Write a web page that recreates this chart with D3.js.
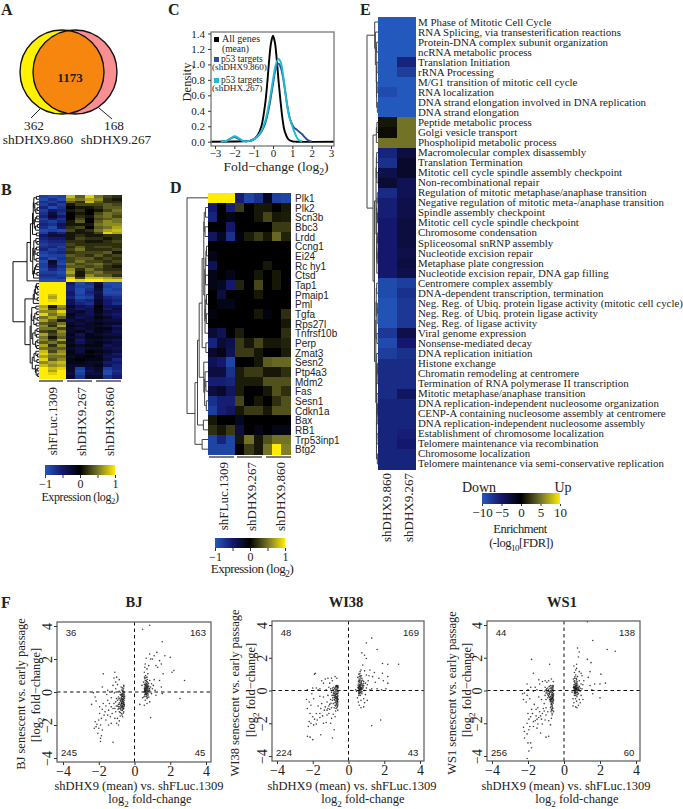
<!DOCTYPE html>
<html>
<head>
<meta charset="utf-8">
<script src="https://cdn.jsdelivr.net/npm/d3@7"></script>
<style>
  body { margin: 0; background: #fff; }
  text { font-family: "Liberation Serif", serif; fill: #222; }
  .sans { font-family: "Liberation Sans", sans-serif; }
</style>
</head>
<body>
<svg id="fig" width="683" height="809"></svg>
<script>
// panel A
var vennCounts = { left: 362, both: 1173, right: 168 };
var vennNames = ["shDHX9.860", "shDHX9.267"];

// panel C, density curves
var allGenesX = [-3.2,-1.5,-1.2,-1,-.8,-.6,-.4,-.3,-.2,-.1,0,.1,.2,.3,.4,.5,.6,.8,1,1.2,3.2];
var allGenesY = [0,.005,.01,.03,.08,.2,.5,.75,1.05,1.28,1.37,1.28,1.05,.75,.5,.28,.14,.03,.005,0,0];
var p53x860X = [-2.7,-2.4,-2.2,-2,-1.8,-1.6,-1.4,-1.2,-1,-.8,-.6,-.4,-.2,0,.1,.2,.3,.4,.5,.6,.7,.8,.9,1,1.1,1.2,1.3,1.4,1.5,1.6,1.8,2];
var p53x860Y = [0,.01,.04,.06,.04,.015,.005,.01,.03,.07,.13,.24,.45,.75,.9,.99,1.01,.96,.86,.7,.53,.38,.28,.22,.18,.16,.14,.12,.1,.07,.02,0];
var p53x267X = [-2.7,-2.4,-2.2,-2,-1.8,-1.6,-1.4,-1.2,-1,-.8,-.6,-.4,-.2,0,.1,.2,.3,.4,.5,.6,.7,.8,.9,1,1.1,1.2,1.3,1.5];
var p53x267Y = [0,.01,.04,.07,.05,.015,.005,.01,.03,.07,.14,.27,.5,.8,.95,1.04,1.07,1.03,.9,.72,.52,.37,.27,.2,.13,.07,.03,0];

// panel B, row by column expression
var groupNames = ["shFLuc.1309", "shDHX9.267", "shDHX9.860"];
var rowsB = [
[-.8,-.9,-.8,.8,.4,.9,.5,.3,.2],[-.9,-.7,-.9,.6,.5,.7,.6,.2,.1],[-.7,-.8,-.6,.4,.2,.8,.4,.2,.2],[-.8,-.6,-.8,.1,.3,.3,.3,.4,.3],
[-.6,-.9,-.7,0,.1,.1,.2,.4,.4],[-.8,-.5,-.6,.1,.2,0,.1,.3,.5],[-.7,-.3,-.7,0,.1,0,.3,.5,.4],[-.6,-.2,-.5,0,.2,.1,.4,.5,.3],
[-.8,-.5,-.7,0,.3,0,.3,.4,.5],[-.7,-.8,-.6,.1,.4,0,.4,.6,.5],[-.6,-.7,-.4,.1,.1,.1,.5,.6,.6],[-.7,-.9,-.5,.2,.3,0,.4,.5,.7],
[-.9,-.8,-.9,.3,.1,.2,.5,.7,.8],[-.8,-.4,-.6,.1,.1,.1,.3,.9,.7],[-.5,-.3,-.3,.1,.2,.1,.1,.2,.2],[-.6,-.5,-.5,.1,.3,.2,.2,.1,.2],
[-.7,-.6,-.6,.2,.2,.1,.1,.2,.3],[-.8,-.7,-.7,.3,.2,.2,.2,.2,.2],[-.7,-.6,-.8,.2,.4,.2,.3,.3,.2],[-.6,-.8,-.7,.3,.5,.2,.2,.2,.3],
[-.8,-.7,-.6,.2,.3,.3,.3,.4,.1],[-.9,-.8,-.8,.4,.3,.2,.4,.2,.3],[-.7,-.9,-.7,.3,.4,.4,.2,.3,.2],[-.9,-.2,-.8,.3,.5,.3,.3,.2,.3],
[-.8,-.3,-.9,.5,.3,.4,.5,.3,.2],[-.8,-.4,-.7,.4,.4,.3,.4,.2,.1],[-.9,-.6,-.8,.6,.2,.5,.3,.2,.2],[-.8,-.8,-.9,.7,.1,.4,.5,.3,.3],
[-.7,-.7,-.8,.5,.1,.6,.4,.4,.2],[-.8,-.8,-.7,.9,.3,.8,.8,.7,.6],[-.9,-.9,-.9,1,.9,1,1,.9,.9],
[1,1,1,-.5,-.9,-.7,-.3,-.9,-.9],[1,1,1,-.6,-.8,-.8,-.2,-.8,-.9],[1,1,1,-.6,-.9,-.7,-.3,-.9,-.8],[1,1,1,-.5,-.9,-.6,-.4,-.9,-.9],
[1,.8,1,-.5,-.8,-.7,-.3,-.8,-.8],[1,.7,1,-.6,-.9,-.8,-.3,-.6,-.7],[1,.9,1,-.4,-.7,-.6,-.2,-.5,-.6],[1,1,1,-.4,-.6,-.7,-.2,-.5,-.7],
[.7,.1,.6,-.2,-.4,-.5,0,-.4,-.4],[.8,.3,.5,-.3,-.5,-.4,-.1,-.5,-.3],[.6,.6,.9,-.3,-.2,-.4,-.1,-.3,-.4],[.9,.5,.7,-.1,-.3,-.4,-.2,-.4,-.5],
[.5,.7,.4,-.2,-.4,-.3,-.1,-.2,-.4],[.7,.4,.1,-.3,-.2,-.3,-.2,-.3,-.3],[.4,.3,.5,-.2,-.3,-.2,-.1,-.2,-.2],[.6,.2,.7,-.1,-.2,-.2,-.2,-.3,-.5],
[.5,.5,.3,-.2,-.3,-.2,-.1,-.1,-.3],[.3,.2,.6,-.2,-.1,-.3,-.1,-.2,-.4],[.7,.3,.5,-.1,-.4,-.1,-.2,-.3,-.3],[.5,.1,.4,-.2,-.3,-.1,-.1,-.2,-.2],
[.6,.3,.7,-.1,-.5,-.2,-.2,-.3,-.4],[.4,.5,.3,-.2,-.4,-.2,-.1,-.2,-.3],[.7,.2,.6,-.1,-.2,-.1,-.1,-.4,-.3],[.5,.4,.4,-.2,-.3,-.2,-.2,-.3,-.4],
[.8,.3,.6,-.1,-.3,0,-.1,-.2,-.3],[.9,.6,.7,-.1,-.2,-.1,-.2,-.3,-.5],[.7,.5,.5,-.2,-.1,0,-.1,-.4,-.4],[.9,.4,.6,-.1,0,-.1,-.1,-.3,-.6],
[.6,.7,.8,-.1,-.1,-.2,-.2,-.5,-.5],[.8,.6,.7,-.2,-.2,-.2,-.1,-.4,-.6],
[1,.8,.9,-.2,-.8,-.3,-.2,-.8,-.6],[1,.7,1,-.2,-.9,-.4,-.2,-.9,-.7],[1,.9,1,-.3,-.8,-.3,-.3,-.9,-.6],[1,1,1,-.2,-.7,-.2,-.2,-.7,-.5]
];
// merge height between neighbouring rows, read from the tree
var treeB = [.1,.2,.08,.16,.07,.12,.22,.09,.14,.18,.06,.13,.25,.1,.33,.12,.08,.2,.1,.15,.07,.19,.11,.24,.09,.13,.17,.08,.21,.46,1,
  .1,.06,.14,.08,.18,.07,.22,.54,.12,.28,.09,.16,.07,.2,.11,.3,.08,.15,.1,.24,.07,.13,.09,.34,.12,.06,.19,.08,.26,.14,.07,.11,.05];

// panel D
var genesD = ["Plk1","Plk2","Scn3b","Bbc3","Lrdd","Ccng1","Ei24","Rc hy1","Ctsd","Tap1","Pmaip1","Pml","Tgfa","Rps27l","Tnfrsf10b","Perp","Zmat3","Sesn2","Ptp4a3","Mdm2","Fas","Sesn1","Cdkn1a","Bax","RB1","Trp53inp1","Btg2"];
var rowsD = [
[1,1,1,-.55,-.85,-.7,-.15,-.8,-.85],[-.5,0,-.55,.25,0,.1,.1,0,.1],[-.6,0,-.1,0,0,.1,.3,.1,.12],[0,0,-.5,0,0,0,0,.25,.25],
[-.45,-.15,-.7,-.07,.12,.25,.1,.45,.15],[0,0,0,0,0,0,0,0,0],[-.1,0,0,0,0,0,0,0,0],[-.4,0,0,0,0,0,.1,0,0],
[-.1,0,-.1,0,0,.1,0,.1,0],[-.1,-.15,-.5,.15,0,.3,0,.1,0],[0,-.3,0,0,0,.1,0,0,0],[0,-.1,-.1,0,0,0,0,0,0],
[-.07,0,0,0,0,.1,-.07,0,.2],[0,0,0,0,0,0,0,0,.1],[-.25,-.4,0,.12,0,0,0,0,.2],[-.6,-.25,-.35,.25,.1,.3,.1,.1,.15],
[-.2,-.1,-.4,.25,.25,.1,0,0,.12],[-.4,-.5,-.85,0,0,.1,.4,.45,.45],[-.3,-.3,-.7,.12,.25,.25,.1,.1,.2],[-.55,-.55,-.6,.12,.12,.12,.35,.35,.35],
[-.3,-.2,-.45,.12,0,0,.1,.35,.2],[-.7,-.55,-.55,.3,0,.1,0,.2,.35],[-.8,-.55,-.45,.1,.25,.25,.1,.35,.35],[.1,0,0,-.15,0,0,0,0,0],
[.2,.1,.25,-.3,0,-.1,0,-.1,-.1],[-.85,-.6,-.85,.1,.5,.1,.35,.5,.5],[-.85,-.85,-.85,0,.25,.1,.5,1,.55]
];
var treeD = [1,.12,.18,.14,.2,.07,.1,.13,.12,.15,.07,.11,.08,.14,.28,.1,.42,.2,.14,.1,.16,.08,.5,.22,.62,.28];

// panel E
var termsE = ["M Phase of Mitotic Cell Cycle","RNA Splicing, via transesterification reactions","Protein-DNA complex subunit organization","ncRNA metabolic process","Translation Initiation","rRNA Processing","M/G1 transition of mitotic cell cycle","RNA localization","DNA strand elongation involved in DNA replication","DNA strand elongation","Peptide metabolic process","Golgi vesicle transport","Phospholipid metabolic process","Macromolecular complex disassembly","Translation Termination","Mitotic cell cycle spindle assembly checkpoint","Non-recombinational repair","Regulation of mitotic metaphase/anaphase transition","Negative regulation of mitotic meta-/anaphase transition","Spindle assembly checkpoint","Mitotic cell cycle spindle checkpoint","Chromosome condensation","Spliceosomal snRNP assembly","Nucleotide excision repair","Metaphase plate congression","Nucleotide excision repair, DNA gap filling","Centromere complex assembly","DNA-dependent transcription, termination","Neg. Reg. of Ubiq. protein ligase activity (mitotic cell cycle)","Neg. Reg. of Ubiq. protein ligase activity","Neg. Reg. of ligase activity","Viral genome expression","Nonsense-mediated decay","DNA replication initiation","Histone exchange","Chromatin remodeling at centromere","Termination of RNA polymerase II transcription","Mitotic metaphase/anaphase transition","DNA replication-independent nucleosome organization","CENP-A containing nucleosome assembly at centromere","DNA replication-independent nucleosome assembly","Establishment of chromosome localization","Telomere maintenance via recombination","Chromosome localization","Telomere maintenance via semi-conservative replication"];
var enrich860 = [-10,-10,-10,-10,-10,-10,-10,-9,-10,-10,1,.5,5,-6,-7,-3.5,-2.5,-6.5,-5.5,-5.5,-5,-5,-5,-5,-5,-5,-9,-9,-9.5,-9.5,-9.5,-7.5,-9,-8,-6.5,-6.5,-6.5,-6.5,-6,-6,-6,-6,-6,-6,-6];
var enrich267 = [-10,-10,-10,-10,-6,-8,-10,-10,-10,-10,5,5,5,-3,-2,-2,-4,-4,-3.5,-3.5,-3,-3,-3,-3.5,-3,-3.5,-8,-7,-7.5,-7.5,-7.5,-3.5,-5,-7,-6.5,-6.5,-6.5,-4.5,-6,-6,-6,-5.5,-5,-6,-6];
var treeE = [.3,.24,.12,.16,.1,.14,.08,.12,.06,1,.1,.15,.45,.12,.15,.1,.18,.07,.1,.05,.12,.06,.1,.08,.11,.32,.12,.16,.06,.08,.18,.1,.2,.12,.06,.08,.14,.1,.05,.08,.12,.1,.14,.06];

// panel F, scatter values
var scatterTitles = ["BJ", "WI38", "WS1"];
var quadrantBJ = [36, 163, 245, 45];
var quadrantWI38 = [48, 169, 224, 43];
var quadrantWS1 = [44, 138, 256, 60];
var pointsBJ = [
[-.6,.4],[-.62,.2],[-.65,.1],[-.58,-.05],[-.7,-.1],[-.63,-.2],[-.55,-.25],[-.72,-.3],[-.6,-.35],[-.68,-.4],[-.75,-.45],[-.58,-.5],[-.65,-.55],[-.8,-.5],[-.7,-.6],[-.62,-.65],[-.72,-.7],[-.85,-.65],[-.57,-.75],[-.66,-.8],[-.78,-.8],[-.6,-.9],[-.7,-.95],[-.82,-.9],[-.65,-1.05],[-.75,-1.1],[-.6,-1.2],[-.72,-1.3],[-.85,-1.2],[-.66,-1.5],[-.8,-1.45],[-.7,-.25],[-.8,-.15],[-.9,-.3],[-.68,.25],[-.75,.3],[-.85,.05],[-.64,-.45],[-.69,-.52],[-.61,-.72],[-.74,-.62],[-.67,-.88],[-.59,-.28],[-.76,-.95],[-.63,-1.0],[-.71,-.15],[-.9,-.75],[-.95,-.5],[-.92,-1.05],[-1,-.4],[-1.02,-.85],[-1.05,-1.2],[-1,.9],[-1.1,1.2],[-1.05,.6],[-.95,.45],[-1.15,.85],[-.85,.75],[-1.2,.4],[-1.25,.05],[-1.3,-.35],[-1.15,-.7],[-1.2,-1],[-1.25,-1.3],[-1.1,-1.6],[-1,-1.9],[-1.3,-.9],[-1.35,-1.5],[-1.4,-.7],[-1.45,-1.1],[-1.5,-.5],[-1.55,-.15],[-1.5,-1.4],[-1.6,-.85],[-1.65,-1.2],[-1.6,-1.7],[-1.7,-1.4],[-1.75,1.1],[-1.8,.3],[-1.75,-.7],[-1.8,-1.05],[-1.85,-1.6],[-1.9,-2],[-1.8,-2.3],[-1.95,-1.3],[-2,-1.7],[-2,-2.2],[-2.05,-2.5],[-1.9,-2.8],[-2.1,-1.95],[-2.15,-2.1],[-2.2,-1.8],[-2.25,-2.2],[-1.95,-.9],[-2.4,-.75],[-2.2,-.3],[-2.3,-.05],[-2.15,-.55],[-1.85,-2.65],[-1.9,-3],[-1.2,-3.05],[-.9,-2],[-.95,-1.6],[-.85,-1.75],[-1.3,-1.9],[-1.45,-2],[-1.5,.1],[-1.05,.2],[-1.12,-.05],
[.55,.2],[.6,.1],[.65,.3],[.58,.05],[.7,.15],[.62,-.05],[.75,.25],[.68,.4],[.55,.45],[.6,.55],[.72,.6],[.8,.35],[.85,.1],[.9,.3],[.66,-.15],[.58,-.25],[.75,-.1],[.8,-.3],[.7,-.4],[.6,-.5],[.52,-.3],[.65,.7],[.58,.8],[.7,.9],[.62,1],[.55,1.2],[.75,1.1],[.85,.7],[.95,.5],[1,.2],[.95,-.1],[1.05,.4],[1.1,.75],[1.15,.1],[1.2,-.2],[.85,-.6],[.7,-.7],[.55,-.8],[.45,-.35],[.42,.4],[.5,.6],[.58,1.5],[.6,1.7],[.7,1.4],[.8,1.6],[.9,2],[.85,2.3],[.65,2.05],[1,2],[1.1,2.2],[1.2,1.6],[1.3,1.5],[1.25,2.4],[1.4,1.9],[1.5,1.7],[1.55,3.05],[.85,4.05],[.45,3.8],[2,2.1],[1.7,2.2],[2.2,1.3],[2.1,1.2],[1.6,1.1],[1.5,.3],[1.55,-.1],[1.4,.7],[2.55,-.4],[2.8,.7],[.9,-1.55],[.3,-.75],[.62,.18],[.67,.08],[.72,.02],[.6,.25],[.64,.35],[.7,.28],[.78,.12],[.82,.22],[.57,.12],[.74,.42],[.66,.5],[.78,.52],[.6,-.12],[.7,-.2]
];
var clusterBJ = [
[-.6,.02],[-.64,-.1],[-.7,-.18],[-.58,-.15],[-.66,-.27],[-.74,-.36],[-.61,-.42],[-.56,-.38],[-.7,-.44],[-.78,-.55],[-.64,-.58],[-.59,-.62],[-.68,-.68],[-.74,-.72],[-.63,-.76],[-.57,-.84],[-.7,-.82],[-.82,-.74],[-.65,-.92],[-.73,-.88],[-.6,-1],[-.68,-1.12],[-.78,-1.02],[-.62,-1.28],[-.7,-1.4],[-.8,-1.25],[-.88,-.42],[-.82,-.38],[-.76,-.2],[-.66,.05],[-.72,.12],[-.6,.32],[-.8,-.02],[-.9,-.9],[-.86,-1],[-.95,-.85],[-1.05,-.6],[-1.1,-1],
[.6,.02],[.65,.12],[.7,.22],[.58,.16],[.63,.06],[.68,-.02],[.74,.08],[.56,.3],[.62,.4],[.7,.48],[.76,.36],[.66,.22],[.72,.32],[.6,.44],[.54,.02],[.64,-.1],[.7,-.08],[.76,-.18],[.58,-.15],[.66,-.28],[.72,-.32],[.8,.05],[.84,.2],[.68,.62],[.6,.68],[.56,.9],[.72,.76],[.64,.86]
];
var pointsWI38 = [
[-.6,.3],[-.65,.25],[-.7,.15],[-.6,.1],[-.75,.05],[-.62,0],[-.7,-.1],[-.58,-.15],[-.8,-.2],[-.66,-.25],[-.6,-.3],[-.72,-.35],[-.85,-.3],[-.63,-.42],[-.75,-.45],[-.68,-.5],[-.58,-.55],[-.8,-.55],[-.62,-.6],[-.7,-.65],[-.9,-.6],[-.6,-.72],[-.76,-.75],[-.66,-.8],[-.85,-.8],[-.6,-.9],[-.72,-.95],[-.65,-1.05],[-.8,-1.05],[-.6,-1.2],[-.72,-1.25],[-.9,.15],[-.95,-.1],[-.82,.2],[-.7,.28],[-.62,-.48],[-.69,-.38],[-.74,-.22],[-.61,-.68],[-.79,-.42],[-.58,.2],[-.9,.6],[-.65,.75],[-.75,.85],[-.95,.75],[-1.05,.45],[-1.1,.2],[-1.3,.7],[-1.4,.45],[-1.5,.6],[-1.25,.05],[-1.15,-.3],[-1,-.55],[-1.05,-.85],[-.95,-1.05],[-1.2,-.7],[-1.3,-1],[-1.15,-1.1],[-1.1,-1.4],[-.95,-1.7],[-1.2,-1.5],[-1.4,-.4],[-1.35,-1.2],[-1.5,-.8],[-1.6,-.35],[-1.55,-1.1],[-1.45,-1.55],[-1.6,-1.65],[-1.7,-.95],[-1.7,.05],[-1.8,.15],[-1.9,1],[-1.85,1.05],[-2,.15],[-2.05,-.2],[-2.1,-.9],[-1.95,-.5],[-2.2,-.7],[-2.35,-.55],[-2.3,-1.1],[-2.15,-1.4],[-2,-1.6],[-1.9,-1.75],[-1.8,-1.4],[-2.2,-1.9],[-2.1,-2],[-1.95,-2.1],[-1.8,-2.05],[-2.25,-2.2],[-1.75,-1.8],[-2.3,-2.8],[-2.15,-2.85],[-2,-3],[-1.55,-2.7],[-.9,-2.9],[-.8,-2.4],[-1,-2],[-1.25,-1.95],[-1.4,-2],[-1.6,-1.4],[-.85,-1.45],[-.75,-1.6],[-1.15,.75],[-2.3,.05],[-1.6,.1],
[.55,.1],[.6,0],[.65,.15],[.58,-.1],[.7,.05],[.62,.25],[.75,.2],[.68,.35],[.55,.4],[.6,.5],[.72,.45],[.8,.1],[.85,.3],[.9,0],[.66,-.15],[.58,-.3],[.75,-.2],[.7,.6],[.6,.7],[.52,.8],[.65,.9],[.58,1],[.75,.75],[.85,.55],[.95,.45],[1,.15],[.95,-.25],[1.05,.35],[1.1,.6],[1.2,.05],[.85,-.5],[.7,-.6],[.55,-.7],[.45,-.05],[.4,.05],[.5,-.45],[.65,1.15],[.7,1.25],[.9,1.2],[1,.95],[1.15,.9],[1.2,1.25],[1.35,.85],[1.45,1.1],[1.5,.5],[1.6,.1],[1.7,.75],[1.9,1.05],[1.95,.6],[2.2,.85],[2.2,.45],[2.1,.1],[1.85,.05],[1.3,.1],[.75,2.3],[.9,2.15],[1,1.95],[.8,1.55],[1,2.9],[1.3,3.2],[1.6,2.5],[1.9,1.65],[2.2,1.6],[2.8,1.6],[1.8,-1.8],[1.3,-2.15],[.7,-1.05],[.85,-1],[.6,-.9],[.9,-.75],[1.05,-.6],[.6,.08],[.66,.22],[.72,.12],[.63,.3],[.57,.18],[.7,-.05],[.78,.28],[.62,.58],[.68,.7],[.6,-.2]
];
var clusterWI38 = [
[-.62,.18],[-.66,.08],[-.72,.22],[-.6,.24],[-.7,.02],[-.64,-.05],[-.76,-.08],[-.58,-.08],[-.68,-.2],[-.62,-.18],[-.74,-.28],[-.6,-.38],[-.66,-.4],[-.72,-.48],[-.6,-.52],[-.68,-.58],[-.76,-.6],[-.63,-.66],[-.7,-.74],[-.6,-.82],[-.68,-.88],[-.75,-.9],[-.62,-.98],[-.7,-1.1],[-.82,-.1],[-.86,.05],[-.88,-.45],[-.78,-.32],[-.84,-.18],[-.66,.3],[-.78,.12],[-.92,-.3],[-1,.1],[-.98,-.78],[-1.1,-.95],[-1.2,-1.2],[-1.05,-1.15],
[.6,.12],[.65,.02],[.7,.18],[.58,.22],[.63,.36],[.68,.12],[.74,.06],[.56,-.02],[.62,-.1],[.7,.32],[.76,.38],[.66,.46],[.72,.54],[.6,.62],[.54,.3],[.64,.04],[.7,-.12],[.76,-.08],[.58,-.18],[.66,-.3],[.82,.2],[.84,.42],[.68,.82],[.6,.84],[.56,.56],[.72,.9],[.64,1.02],[.52,.18],[.8,.62]
];
var pointsWS1 = [
[-.6,.3],[-.65,.2],[-.7,.1],[-.62,.05],[-.75,0],[-.6,-.05],[-.68,-.15],[-.58,-.2],[-.8,-.15],[-.66,-.3],[-.6,-.35],[-.72,-.4],[-.85,-.35],[-.63,-.45],[-.75,-.5],[-.68,-.55],[-.58,-.6],[-.8,-.55],[-.62,-.65],[-.7,-.7],[-.9,-.45],[-.6,-.78],[-.72,-.85],[-.65,-.95],[-.75,-1.05],[-.62,-1.1],[-.7,-1.2],[-.58,-1.3],[-.66,-1.4],[-.9,.15],[-.95,-.1],[-.82,.25],[-.75,.3],[-1,.05],[-1.05,-.3],[-.85,.6],[-.7,.7],[-.6,.55],[-.95,.5],[-1.05,.2],[-.8,-.25],[-.88,-.05],[-.65,-.42],[-.7,-.48],[-.76,-.6],[-.64,-.22],[-.8,1.6],[-1.7,1.05],[-1.8,1.9],[-1.4,.65],[-1.35,.4],[-1.2,.55],[-1.05,.6],[-1.6,.2],[-1.5,.05],[-1.7,-.05],[-1.85,.2],[-2.05,.4],[-2,.05],[-2.2,-.15],[-2.3,-.2],[-2.05,-.3],[-2.25,-.55],[-2.1,-.7],[-1.9,-.5],[-1.4,-.4],[-1.25,-.55],[-1.1,-.8],[-1,-1.05],[-.9,-1.3],[-1.1,-1.25],[-1.2,-1.4],[-1.3,-1.55],[-1.4,-1.65],[-1.5,-1.75],[-1.6,-1.85],[-1.7,-1.9],[-1.85,-1.6],[-1.95,-1.75],[-1.75,-1.4],[-1.55,-1.15],[-1.65,-.85],[-1.8,-1.15],[-2,-1.4],[-2.05,-2],[-1.9,-2.2],[-1.7,-2.2],[-2.25,-2.25],[-2.2,-2.5],[-2.05,-2.65],[-2.2,-2.9],[-1.95,-2.4],[-2,-3.2],[-1.85,-3.2],[-1.8,-3.5],[-1.95,-3.7],[-2.05,-4.15],[-1.5,-2.3],[-1.3,-2.6],[-1,-2.85],[-.85,-2.8],[-.75,-2.1],[-1.05,-1.8],[-.85,-1.85],[-1.2,-2.05],[-.7,-1.7],[-1.45,-1.05],[-1,-.55],
[.55,.1],[.6,0],[.65,.15],[.58,-.1],[.7,.05],[.62,.2],[.75,.2],[.68,.3],[.55,.35],[.6,.5],[.72,.45],[.8,.1],[.85,.25],[.9,-.05],[.66,-.2],[.58,-.3],[.75,-.25],[.7,.65],[.6,.75],[.52,.7],[.65,.95],[.58,1.1],[.75,.85],[.85,.6],[.95,.4],[1,.1],[.95,-.3],[1.05,.35],[1.1,.6],[.85,-.55],[.7,-.65],[.55,-.75],[.45,-.1],[.5,-.5],[.65,1.25],[.7,1.35],[.55,1.5],[.85,1.15],[.95,1.05],[1,.9],[1.05,-.55],[.8,-.9],[.65,-1],[.5,-.95],[.72,-1.05],[.9,-.75],[1.3,1.9],[1.5,1.7],[1.45,1.15],[1.35,.8],[1.45,.3],[1.55,.05],[1.7,.4],[1.6,-.2],[2,.4],[2.3,.45],[2,-.45],[2.05,1],[.75,2.6],[.85,2.35],[.8,2.05],[.7,1.6],[1.6,3.05],[2.4,2.5],[2.85,2.4],[1.3,4.2],[.6,.08],[.66,.12],[.72,-.02],[.63,.25],[.57,.18],[.7,.22],[.78,.02],[.62,-.15],[.68,.4],[.6,.6],[.64,-.08],[.74,.15]
];
var clusterWS1 = [
[-.62,.12],[-.66,.02],[-.72,.18],[-.6,.22],[-.7,-.04],[-.64,-.12],[-.76,-.1],[-.58,-.28],[-.68,-.26],[-.62,-.34],[-.74,-.36],[-.6,-.46],[-.66,-.5],[-.72,-.56],[-.6,-.54],[-.68,-.64],[-.76,-.68],[-.63,-.72],[-.7,-.8],[-.66,-.88],[-.72,-.98],[-.64,-1.04],[-.68,-1.14],[-.62,-1.22],[-.72,-1.3],[-.66,-1.5],[-.82,-.06],[-.86,.05],[-.88,-.3],[-.8,-.42],[-.84,-.18],[-.66,.28],[-.78,.12],[-.92,-.22],[-1,-.15],[-.96,.1],[-1.08,-.05],[-1,-1.5],[-1.15,-1.1],[-1.25,-1.75],[-1.35,-1.3],[-1.45,-2.05],[-1.55,-1.55],
[.6,.12],[.65,.02],[.7,.12],[.58,.22],[.63,.32],[.68,.12],[.74,.06],[.56,-.02],[.62,-.1],[.7,.32],[.76,.34],[.66,.44],[.72,.54],[.6,.38],[.54,.24],[.64,.04],[.7,-.12],[.76,-.1],[.58,-.18],[.66,-.3],[.82,.2],[.84,.04],[.68,.74],[.6,.84],[.56,.56],[.72,-.38],[.64,-.5],[.52,.18],[.8,-.2],[.9,.14]
];

// expression palette, blue through black to yellow
var heatStops = ["#2358bd", "#14176b", "#000000", "#737328", "#ffec00"];
var expressionColor = d3.scaleLinear().domain([-1, -.5, 0, .5, 1]).range(heatStops);
var enrichColor = d3.scaleLinear().domain([-10, -5, 0, 5, 10]).range(heatStops);

var svg = d3.select("#fig");

function addText(x, y, str, size, opts) {
  opts = opts || {};
  var t = svg.append("text")
    .attr("transform", "translate(" + x + "," + y + ")" + (opts.rotate ? " rotate(" + opts.rotate + ")" : ""))
    .attr("font-size", size)
    .attr("text-anchor", opts.anchor || "middle")
    .text(str);
  if (opts.bold) t.attr("font-weight", "bold");
  if (opts.cls) t.attr("class", opts.cls);
  if (opts.spacing) t.attr("letter-spacing", opts.spacing);
  return t;
}

// text with a subscript, e.g. log2
function addSub(x, y, before, sub, after, size, opts) {
  var t = addText(x, y, before, size, opts);
  t.append("tspan").attr("font-size", size * .72).attr("dy", size * .28).text(sub);
  t.append("tspan").attr("dy", -size * .28).text(after);
  return t;
}

["A", "B", "C", "D", "E", "F"].forEach(function(letter, i) {
  var xs = [1, 1, 168, 170, 360, 1], ys = [14.5, 195, 14.5, 193, 14.5, 608];
  addText(xs[i], ys[i], letter, 16, { anchor: "start", bold: true });
});

// ---- A ----
var vennX = d3.scaleLinear().domain([0, 1]).range([62, 75]);
svg.append("clipPath").attr("id", "vennClip").append("circle").attr("cx", vennX(0)).attr("cy", 72).attr("r", 42);
svg.append("circle").attr("cx", vennX(0)).attr("cy", 72).attr("r", 42).attr("fill", "#fff200");
svg.append("circle").attr("cx", vennX(1)).attr("cy", 72).attr("r", 42).attr("fill", "#f98f92");
svg.append("circle").attr("cx", vennX(1)).attr("cy", 72).attr("r", 42).attr("fill", "#f7860f").attr("clip-path", "url(#vennClip)");
svg.selectAll(".vennRing").data([0, 1]).enter().append("circle")
  .attr("cx", function(d) { return vennX(d); }).attr("cy", 72).attr("r", 42)
  .attr("fill", "none").attr("stroke", "#111").attr("stroke-width", 1.4);
svg.append("path").attr("d", "M40,109L31,118M99,108L112,119").attr("stroke", "#222").attr("fill", "none");
addText(70, 82, vennCounts.both, 13, { bold: true });
addText(34, 130, vennCounts.left, 13.3);
addText(38, 144, vennNames[0], 13.3);
addText(114, 130, vennCounts.right, 13.3);
addText(116, 144, vennNames[1], 13.3);

// ---- C ----
var densX = d3.scaleLinear().domain([-3, 3]).range([215, 331]);
var densY = d3.scaleLinear().domain([0, 1.4]).range([141.7, 33.5]);
var densLine = d3.line().x(function(d) { return densX(d[0]); }).y(function(d) { return densY(d[1]); }).curve(d3.curveCatmullRom);
svg.append("clipPath").attr("id", "densClip").append("rect").attr("x", 211).attr("y", 32).attr("width", 123).attr("height", 114);
[[allGenesX, allGenesY, "#000"], [p53x860X, p53x860Y, "#2a4d9c"], [p53x267X, p53x267Y, "#20bcd2"]].forEach(function(s) {
  svg.append("path").datum(d3.zip(s[0], s[1]))
    .attr("d", densLine).attr("fill", "none").attr("stroke", s[2]).attr("stroke-width", 1.9).attr("clip-path", "url(#densClip)");
});
svg.append("rect").attr("x", 211).attr("y", 32).attr("width", 123).attr("height", 114).attr("fill", "none").attr("stroke", "#777").attr("stroke-width", 1.3);

function styleAxis(g, fontSize, color) {
  g.select(".domain").remove();
  g.selectAll("line").attr("stroke", color || "#333");
  g.selectAll("text").attr("font-family", "'Liberation Serif', serif").attr("font-size", fontSize).attr("fill", "#222");
}

var densXAxis = svg.append("g").attr("transform", "translate(0,146)")
  .call(d3.axisBottom(densX).tickValues([-3, -2, -1, 0, 1, 2, 3]).tickSize(3).tickFormat(function(d) { return String(d).replace("-", "\u2212"); }));
styleAxis(densXAxis, 11);
densXAxis.selectAll("text").attr("y", 3);
var densYAxis = svg.append("g").attr("transform", "translate(211,0)")
  .call(d3.axisLeft(densY).tickValues([0, .2, .4, .6, .8, 1, 1.2, 1.4]).tickSize(3).tickFormat(d3.format(".1f")));
styleAxis(densYAxis, 11);
addText(191, 82, "Density", 12.5, { rotate: -90 });
addSub(276, 171, "Fold\u2212change (log", "2", ")", 13.5);

svg.append("rect").attr("x", 214).attr("y", 37).attr("width", 5).attr("height", 5).attr("fill", "#000");
addText(222, 42, "All genes", 10, { anchor: "start" });
addText(222, 52, "(mean)", 9.5, { anchor: "start" });
svg.append("rect").attr("x", 214).attr("y", 57).attr("width", 5).attr("height", 5).attr("fill", "#2a4d9c");
addText(221, 62, "p53 targets", 9.5, { anchor: "start" });
addText(212, 70, "(shDHX9.860)", 9.2, { anchor: "start" });
svg.append("rect").attr("x", 214).attr("y", 78).attr("width", 5).attr("height", 5).attr("fill", "#20bcd2");
addText(221, 83, "p53 targets", 9.5, { anchor: "start" });
addText(212, 91, "(shDHX.267)", 9.2, { anchor: "start" });

// ---- heatmaps ----
function drawHeat(rows, x0, x1, y0, y1, color) {
  var cols = d3.range(rows[0].length);
  var bx = d3.scaleBand().domain(cols).range([x0, x1]);
  var by = d3.scaleBand().domain(d3.range(rows.length)).range([y0, y1]);
  svg.append("g").attr("shape-rendering", "crispEdges").selectAll("g").data(rows).enter().append("g")
    .each(function(row, i) {
      d3.select(this).selectAll("rect").data(row).enter().append("rect")
        .attr("x", function(d, j) { return bx(j); })
        .attr("y", by(i))
        .attr("width", bx.bandwidth() + .5)
        .attr("height", by.bandwidth() + .5)
        .attr("fill", function(d) { return color(d); });
    });
  return by;
}

// merge heights between neighbours give the tree, tallest merge first
function drawDendro(merges, by, xLeaf, xRoot, lineColor) {
  var hx = d3.scaleLinear().domain([0, 1]).range([xLeaf, xRoot]);
  var path = d3.path();
  function build(lo, hi) {
    if (lo == hi) return { y: by(lo) + by.bandwidth() / 2, h: 0 };
    var m = lo;
    for (var i = lo; i < hi; i++) { if (merges[i] > merges[m]) m = i; }
    var a = build(lo, m), b = build(m + 1, hi);
    path.moveTo(hx(a.h), a.y);
    path.lineTo(hx(merges[m]), a.y);
    path.lineTo(hx(merges[m]), b.y);
    path.lineTo(hx(b.h), b.y);
    return { y: (a.y + b.y) / 2, h: merges[m] };
  }
  build(0, merges.length);
  svg.append("path").attr("d", path.toString()).attr("fill", "none").attr("stroke", lineColor).attr("stroke-width", 1);
}

function drawGroupBars(y, top, spans) {
  spans.forEach(function(s, i) {
    svg.append("line").attr("x1", s[0]).attr("x2", s[1]).attr("y1", y).attr("y2", y).attr("stroke", "#222").attr("stroke-width", 1.2);
    addText(s[2], top, groupNames[i], 13, { rotate: -90, anchor: "end" });
  });
}

function drawColorBar(id, x0, x1, y0, y1, domain, color, ticks, tickSize, fmt, fontSize) {
  var grad = svg.append("linearGradient").attr("id", id);
  domain.forEach(function(d, i) {
    grad.append("stop").attr("offset", i / (domain.length - 1)).attr("stop-color", color(d));
  });
  svg.append("rect").attr("x", x0).attr("y", y0).attr("width", x1 - x0).attr("height", y1 - y0).attr("fill", "url(#" + id + ")");
  var sc = d3.scaleLinear().domain([domain[0], domain[domain.length - 1]]).range([x0, x1]);
  var ax = svg.append("g").attr("transform", "translate(0," + y1 + ")")
    .call(d3.axisBottom(sc).tickValues(ticks).tickSize(tickSize).tickFormat(fmt));
  styleAxis(ax, fontSize);
  ax.selectAll("text").attr("dy", "0.6em");
}

function minusFmt(d) { return d % 1 ? "" : String(d).replace("-", "\u2212"); }

// B
var byB = drawHeat(rowsB, 39, 121, 195, 378, expressionColor);
drawDendro(treeB, byB, 39, 13, "#111");
drawGroupBars(381, 387, [[39, 63, 57], [67, 92, 86], [96, 121, 114]]);
drawColorBar("barB", 45, 115, 465, 475, [-1, -.5, 0, .5, 1], expressionColor, [-1, -.5, 0, .5, 1], 3, minusFmt, 12);
addSub(80, 501, "Expression (log", "2", ")", 12, { spacing: "-.4" });

// D
var byD = drawHeat(rowsD, 208, 290, 193, 454, expressionColor);
drawDendro(treeD, byD, 208, 187, "#444");
drawGroupBars(457, 462, [[209, 234, 228], [237, 262, 256], [266, 291, 285]]);
svg.selectAll(".geneD").data(genesD).enter().append("text")
  .attr("class", "sans").attr("x", 295)
  .attr("y", function(d, i) { return byD(i) + byD.bandwidth() / 2 + 4; })
  .attr("font-size", 10).text(function(d) { return d; });
drawColorBar("barD", 215, 285, 538, 548, [-1, -.5, 0, .5, 1], expressionColor, [-1, -.5, 0, .5, 1], 3, minusFmt, 12);
addSub(252, 573, "Expression (log", "2", ")", 13, { spacing: "-.5" });

// E
var rowsE = enrich860.map(function(d, i) { return [d, enrich267[i]]; });
var byE = drawHeat(rowsE, 378, 415, 17, 469, enrichColor);
drawDendro(treeE, byE, 378, 367, "#444");
svg.selectAll(".termE").data(termsE).enter().append("text")
  .attr("x", 418)
  .attr("y", function(d, i) { return byE(i) + byE.bandwidth() / 2 + 3.5; })
  .attr("font-size", 10.9).text(function(d) { return d; });
addText(391, 473, "shDHX9.860", 13, { rotate: -90, anchor: "end" });
addText(413, 473, "shDHX9.267", 13, { rotate: -90, anchor: "end" });
addText(479, 492, "Down", 14);
addText(563, 492, "Up", 14);
drawColorBar("barE", 482, 560, 493, 504, [-10, -5, 0, 5, 10], enrichColor, [-10, -5, 0, 5, 10], 2, minusFmt, 13);
addText(520, 533, "Enrichment", 12.5, { spacing: "-.5" });
addSub(521, 547, "(-log", "10", "[FDR])", 12.5, { spacing: "-.5" });

// ---- F ----
var scatterPanels = [
  { title: scatterTitles[0], pts: pointsBJ.concat(clusterBJ), counts: quadrantBJ, box: [57, 211, 622, 762], xt: [63, 206], yt: [626, 758], titleX: 134,
    yName: "BJ senescent vs. early passage", nameX: 25, nameY: 694, brX: 40, brY: 695, x1: 139, x2: 150, xy1: 790, xy2: 803 },
  { title: scatterTitles[1], pts: pointsWI38.concat(clusterWI38), counts: quadrantWI38, box: [272, 424, 621, 761], xt: [277, 420], yt: [625, 756], titleX: 346,
    yName: "WI38 senescent vs. early passage", nameX: 239, nameY: 693, brX: 255, brY: 690, x1: 352, x2: 363, xy1: 790, xy2: 803 },
  { title: scatterTitles[2], pts: pointsWS1.concat(clusterWS1), counts: quadrantWS1, box: [487, 640, 621, 761], xt: [492, 636], yt: [625, 756], titleX: 562,
    yName: "WS1 senescent vs. early passage", nameX: 456, nameY: 693, brX: 471, brY: 690, x1: 566, x2: 577, xy1: 790, xy2: 803 }
];

scatterPanels.forEach(function(p) {
  var x = d3.scaleLinear().domain([-4, 4]).range(p.xt);
  var y = d3.scaleLinear().domain([-4, 4]).range([p.yt[1], p.yt[0]]);
  var b = p.box;
  var clipId = "clip" + p.title;
  svg.append("clipPath").attr("id", clipId).append("rect").attr("x", b[0]).attr("y", b[2]).attr("width", b[1] - b[0]).attr("height", b[3] - b[2]);

  svg.append("g").attr("clip-path", "url(#" + clipId + ")").selectAll("circle").data(p.pts).enter().append("circle")
    .attr("cx", function(d) { return x(d[0]); })
    .attr("cy", function(d) { return y(d[1]); })
    .attr("r", .8).attr("fill", "#111").attr("fill-opacity", .8);

  svg.append("line").attr("x1", b[0]).attr("x2", b[1]).attr("y1", y(0)).attr("y2", y(0)).attr("stroke", "#111").attr("stroke-dasharray", "3.5,3");
  svg.append("line").attr("x1", x(0)).attr("x2", x(0)).attr("y1", b[2]).attr("y2", b[3]).attr("stroke", "#111").attr("stroke-dasharray", "3.5,3");
  svg.append("rect").attr("x", b[0]).attr("y", b[2]).attr("width", b[1] - b[0]).attr("height", b[3] - b[2])
    .attr("fill", "none").attr("stroke", "#666").attr("stroke-width", 1.3);

  var xa = svg.append("g").attr("transform", "translate(0," + b[3] + ")")
    .call(d3.axisBottom(x).tickValues([-4, -2, 0, 2, 4]).tickSize(3).tickFormat(minusFmt));
  styleAxis(xa, 14);
  xa.selectAll("text").attr("y", 4);
  var ya = svg.append("g").attr("transform", "translate(" + b[0] + ",0)")
    .call(d3.axisLeft(y).tickValues([-4, -2, 0, 2, 4]).tickSize(3).tickFormat(minusFmt));
  styleAxis(ya, 14);
  ya.selectAll("text").attr("transform", "rotate(-90)").attr("text-anchor", "middle").attr("x", 0).attr("y", -5).attr("dy", 0);

  addText(p.titleX, 607, p.title, 14.5, { bold: true });
  addText(b[0] + 14, 636, p.counts[0], 9.5, { cls: "sans" });
  addText(b[1] - 13, 636, p.counts[1], 9.5, { cls: "sans" });
  addText(b[0] + 12, 756, p.counts[2], 9.5, { cls: "sans" });
  addText(b[1] - 11, 756, p.counts[3], 9.5, { cls: "sans" });

  addText(p.nameX, p.nameY, p.yName, 12.5, { rotate: -90 });
  addSub(p.brX, p.brY, "[log", "2", " fold\u2212change]", 12.5, { rotate: -90 });
  addText(p.x1, p.xy1, "shDHX9 (mean) vs. shFLuc.1309", 12.5);
  addSub(p.x2, p.xy2, "log", "2", " fold-change", 12.5);
});
</script>
</body>
</html>
